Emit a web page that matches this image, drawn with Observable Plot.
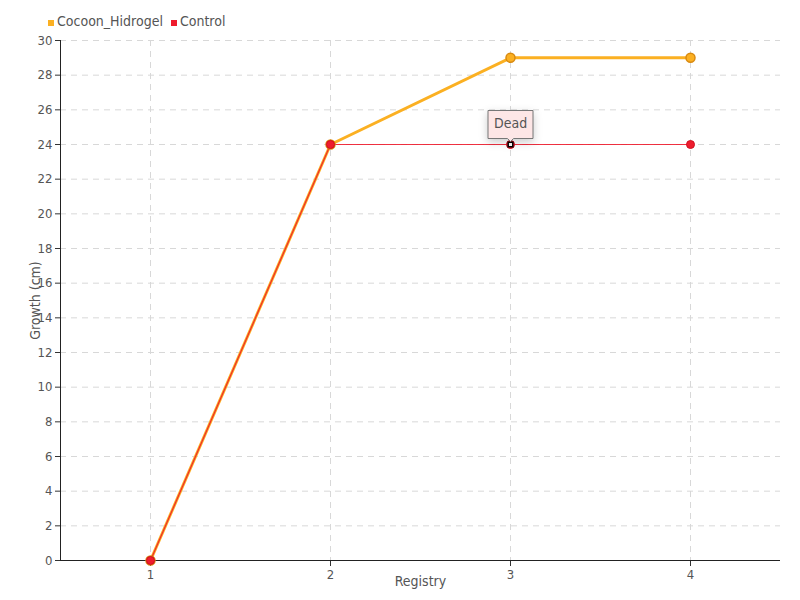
<!DOCTYPE html>
<html>
<head>
<meta charset="utf-8">
<script src="https://cdn.jsdelivr.net/npm/d3@7"></script>
<script src="https://cdn.jsdelivr.net/npm/@observablehq/plot@0.6"></script>
<style>
  body { margin: 0; background: #fff; }
  #wrap { position: relative; width: 800px; height: 600px; font-family: "DejaVu Sans", sans-serif; font-stretch: condensed; }
  #legend { position: absolute; left: 48px; top: 13px; font-size: 14px; color: #555; display: flex; gap: 8px; align-items: center; font-stretch: condensed; }
  #legend span.sw { display: inline-block; width: 6px; height: 6px; margin-right: 3px; vertical-align: middle; position: relative; top: 1px; }
  svg text { font-stretch: condensed; }
</style>
</head>
<body>
<div id="wrap">
  <div id="chart"></div>
  <div id="legend"></div>
</div>
<script>
const registry = [1, 2, 3, 4];
const cocoonValues = [0, 24, 29, 29];
const controlValues = [0, 24, 24, 24];
const seriesNames = ["Cocoon_Hidrogel", "Control"];
const seriesColors = ["#fbb022", "#ee1c2e"];
const yTicks = d3.range(0, 31, 2);
const annotations = [{x: 3, y: 24, label: "Dead"}];

const cocoon = registry.map((r, i) => ({x: r, y: cocoonValues[i]}));
const control = registry.map((r, i) => ({x: r, y: controlValues[i]}));

const legend = document.getElementById("legend");
seriesNames.forEach((n, i) => {
  const d = document.createElement("div");
  d.innerHTML = `<span class="sw" style="background:${seriesColors[i]}"></span>${n}`;
  legend.appendChild(d);
});

const plot = Plot.plot({
  width: 800,
  height: 600,
  marginTop: 40,
  marginLeft: 60,
  marginRight: 20,
  marginBottom: 40,
  style: {fontFamily: "'DejaVu Sans', sans-serif", fontSize: "13px", color: "#555", background: "#fff"},
  x: {domain: [0.5, 4.5], label: null},
  y: {domain: [0, 30], label: null},
  marks: [
    Plot.gridY(yTicks, {stroke: "#d8d8d8", strokeOpacity: 1, strokeDasharray: "6,5"}),
    Plot.gridX(registry, {stroke: "#d8d8d8", strokeOpacity: 1, strokeDasharray: "6,5"}),
    Plot.axisY({ticks: yTicks, tickSize: 5, tickPadding: 3, label: null, stroke: "#333", tickFormat: d => String(d)}),
    Plot.axisX({ticks: registry, tickSize: 6, tickPadding: 3, label: null, stroke: "#333", tickFormat: d => String(d)}),
    Plot.text(["Registry"], {frameAnchor: "bottom", dy: 25, text: d => d, fontSize: 14, fill: "#555"}),
    Plot.text(["Growth (cm)"], {frameAnchor: "left", textAnchor: "middle", dx: -25, rotate: -90, text: d => d, fontSize: 14, fill: "#555"}),
    Plot.ruleY([0], {stroke: "#222"}),
    Plot.ruleX([0.5], {stroke: "#222"}),
    Plot.line(cocoon, {x: "x", y: "y", stroke: seriesColors[0], strokeWidth: 3}),
    Plot.line(control, {x: "x", y: "y", stroke: seriesColors[1], strokeWidth: 1.2, strokeOpacity: 0.9}),
    Plot.dot(cocoon, {x: "x", y: "y", r: 4.5, fill: seriesColors[0], stroke: "#d98a10", strokeWidth: 1.5}),
    Plot.dot(control, {x: "x", y: "y", r: 4, fill: seriesColors[1], stroke: "#d01020", strokeWidth: 1}),
    Plot.dot(annotations, {x: "x", y: "y", r: 3.5, fill: "#ee1c2e", fillOpacity: 0.5, stroke: "none"}),
    Plot.dot(annotations, {x: "x", y: "y", symbol: "square", r: 2.6, fill: "#fff", stroke: "#000", strokeWidth: 1.5}),
    Plot.tip(annotations, {x: "x", y: "y", title: "label", anchor: "bottom", dy: -3, fill: "#fde6e6", stroke: "#777", fontSize: 14, textPadding: 6, pointerSize: 6})
  ]
});
document.getElementById("chart").appendChild(plot);
</script>
</body>
</html>
